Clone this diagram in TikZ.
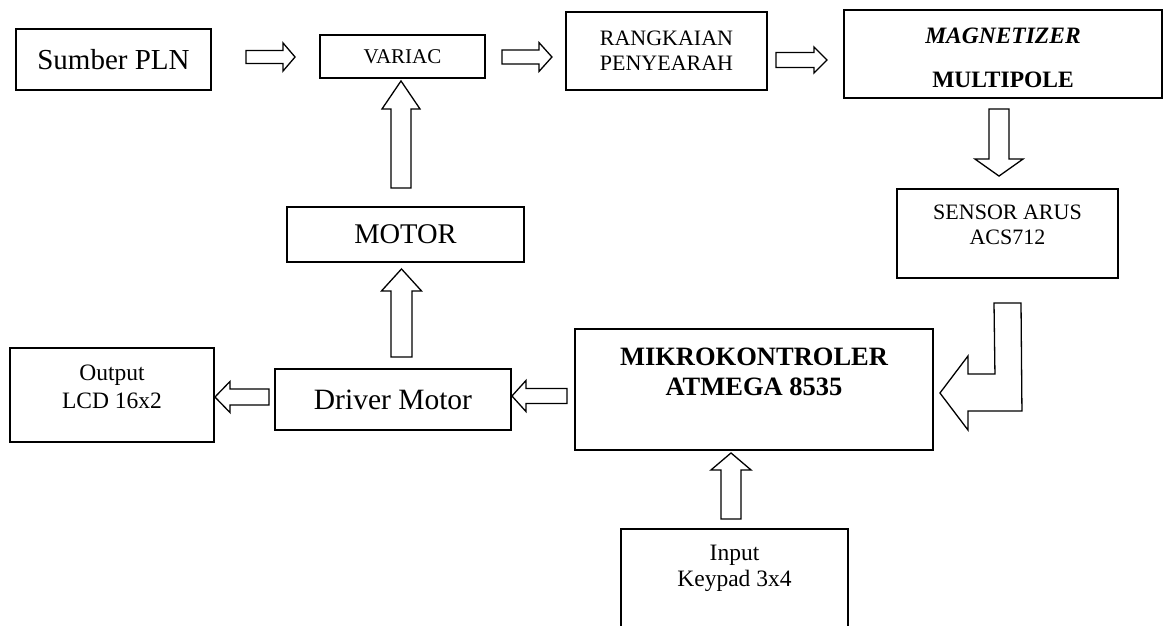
\documentclass[tikz,border=0pt]{standalone}
\usepackage{fontspec}
\setmainfont{Liberation Serif}
\usetikzlibrary{calc}
\tikzset{
  blk/.style={draw, line width=1.9pt, inner sep=0pt, align=center},
  txt/.style={inner sep=0pt, align=center, anchor=north},
  barrowline/.style={draw, line width=1.3pt, fill=white, line join=miter},
}
% #1 tail, #2 tip, #3 shaft half width, #4 head half width, #5 head length
\newcommand{\blockarrow}[5]{%
  \coordinate (bH) at ($(#2)!#5pt!(#1)$);
  \draw[barrowline] ($(#1)!#3pt!90:(#2)$) -- ($(bH)!#3pt!-90:(#1)$) -- ($(bH)!#4pt!-90:(#1)$) -- (#2)
     -- ($(bH)!#4pt!90:(#1)$) -- ($(bH)!#3pt!90:(#1)$) -- ($(#1)!#3pt!-90:(#2)$) -- cycle;
}
\begin{document}
\begin{tikzpicture}[x=1pt,y=-1pt]
\useasboundingbox (0,0) rectangle (1164,625);
\fill[white] (0,0) rectangle (1164,625);
\clip (0,0) rectangle (1164,625);

% boxes
\node[blk, minimum width=195, minimum height=61, font=\fontsize{29}{34}\selectfont] (sumber) at (113.5,59.5) {Sumber PLN};
\node[blk, minimum width=165, minimum height=43, font=\fontsize{21}{25}\selectfont] (variac) at (402.5,56.5) {VARIAC};
\node[blk, minimum width=201, minimum height=78, font=\fontsize{22}{25}\selectfont] (rangk) at (666.5,51) {RANGKAIAN\\PENYEARAH};
\node[blk, minimum width=318, minimum height=88] (magnet) at (1003,54) {};
\node[txt, font=\fontsize{23.5}{44}\selectfont\bfseries] (magnetT) at (1003,28) {\textit{MAGNETIZER}\\MULTIPOLE};
\node[blk, minimum width=221, minimum height=89] (sensor) at (1007.5,233.5) {};
\node[txt, font=\fontsize{22}{25}\selectfont] (sensorT) at (1007.5,205) {SENSOR ARUS\\ACS712};
\node[blk, minimum width=237, minimum height=55, font=\fontsize{28.5}{33}\selectfont] (motor) at (405.5,234.5) {MOTOR};
\node[blk, minimum width=236, minimum height=61, font=\fontsize{29.5}{34}\selectfont] (driver) at (393,399.5) {Driver Motor};
\node[blk, minimum width=204, minimum height=94] (output) at (112,395) {};
\node[txt, font=\fontsize{23.5}{27.5}\selectfont] (outputT) at (112,365) {Output\\LCD 16x2};
\node[blk, minimum width=358, minimum height=121] (mikro) at (754,389.5) {};
\node[txt, font=\fontsize{26.5}{30}\selectfont\bfseries] (mikroT) at (754,348) {MIKROKONTROLER\\ATMEGA 8535};
\node[blk, minimum width=227, minimum height=121] (input) at (734.5,589.5) {};
\node[txt, font=\fontsize{23.5}{26}\selectfont] (inputT) at (734.5,545) {Input\\Keypad 3x4};

% block arrows
\coordinate (a1t) at ($(variac.west)+(-73,0.5)$);
\coordinate (a1h) at ($(variac.west)+(-24,0.5)$);
\blockarrow{a1t}{a1h}{6.5}{14}{12}

\coordinate (a2t) at ($(variac.east)+(16,0.5)$);
\coordinate (a2h) at ($(variac.east)+(66,0.5)$);
\blockarrow{a2t}{a2h}{7}{14.5}{13}

\coordinate (a3t) at ($(magnet.west)+(-67,6)$);
\coordinate (a3h) at ($(magnet.west)+(-16,6)$);
\blockarrow{a3t}{a3h}{7.5}{13}{13}

\coordinate (a4t) at ($(magnet.south)+(-4,10)$);
\coordinate (a4h) at ($(sensor.north)+(-8.5,-12)$);
\blockarrow{a4t}{a4h}{10}{24}{17}

\coordinate (a5t) at ($(motor.north)+(-4.5,-18)$);
\coordinate (a5h) at ($(variac.south)+(-1.5,2)$);
\blockarrow{a5t}{a5h}{10}{19}{28}

\coordinate (a6t) at ($(driver.north)+(8.5,-11)$);
\coordinate (a6h) at ($(motor.south)+(-4,6)$);
\blockarrow{a6t}{a6h}{10.5}{20}{22}

\coordinate (a7t) at ($(driver.west)+(-5,-2.5)$);
\coordinate (a7h) at ($(output.east)+(0,2)$);
\blockarrow{a7t}{a7h}{8}{15.5}{15}

\coordinate (a8t) at ($(mikro.west)+(-7,6.5)$);
\coordinate (a8h) at ($(driver.east)+(0,-3.5)$);
\blockarrow{a8t}{a8h}{7.5}{15.5}{14}

\coordinate (a9t) at ($(input.north)+(-3.5,-9)$);
\coordinate (a9h) at ($(mikro.south)+(-23,2)$);
\blockarrow{a9t}{a9h}{10}{20}{17}

% L-shaped block arrow from sensor to mikrokontroler
\coordinate (lTop) at ($(sensor.south)+(0,24)$);
\coordinate (lTip) at ($(mikro.east)+(6,3.5)$);
\draw[barrowline] ($(lTop)+(-13.5,0)$) -- ($(lTop)+(13.5,0)$) -- ($(lTip)+(82,18)$) -- ($(lTip)+(28,18)$)
  -- ($(lTip)+(28,37)$) -- (lTip) -- ($(lTip)+(28,-37)$) -- ($(lTip)+(28,-19)$) -- ($(lTip)+(55,-19)$) -- cycle;
\end{tikzpicture}
\end{document}
